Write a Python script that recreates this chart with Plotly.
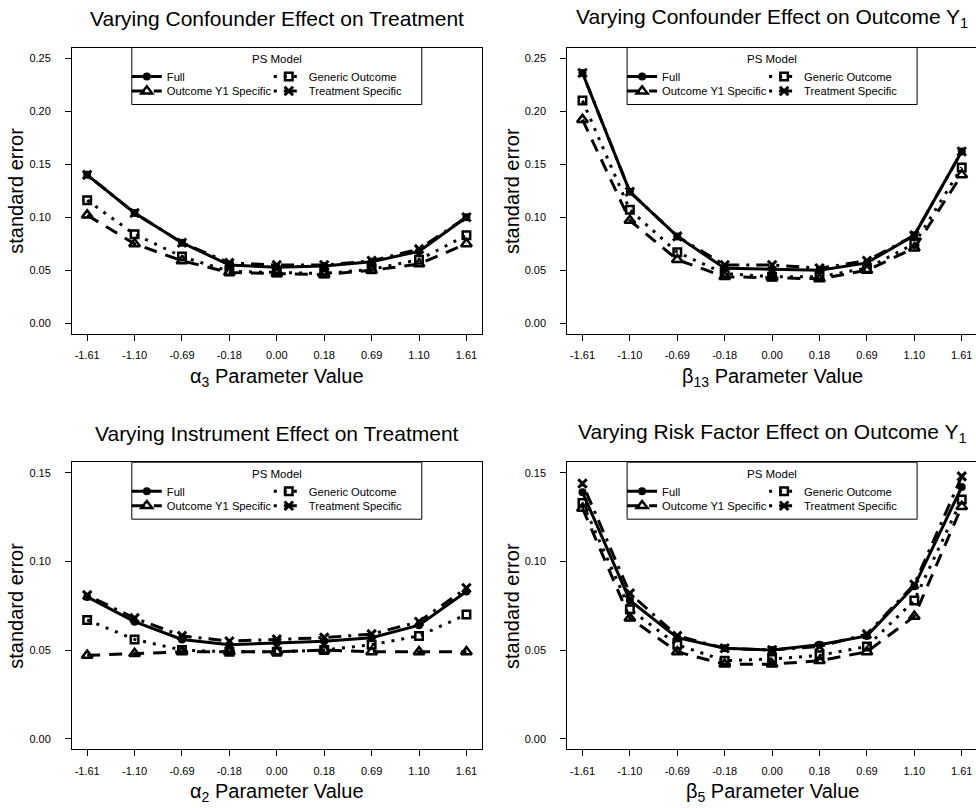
import plotly.graph_objects as go

# ---------------- data ----------------
categories = ["-1.61", "-1.10", "-0.69", "-0.18", "0.00", "0.18", "0.69", "1.10", "1.61"]
series_names = ["Full", "Generic Outcome", "Outcome Y1 Specific", "Treatment Specific"]

# Panel 1: Varying Confounder Effect on Treatment (alpha_3)
conf_trt_full = [0.140, 0.104, 0.076, 0.055, 0.053, 0.054, 0.058, 0.068, 0.100]
conf_trt_generic = [0.116, 0.084, 0.063, 0.049, 0.048, 0.047, 0.051, 0.060, 0.083]
conf_trt_y1spec = [0.102, 0.075, 0.059, 0.048, 0.047, 0.046, 0.050, 0.056, 0.075]
conf_trt_trtspec = [0.140, 0.104, 0.076, 0.057, 0.055, 0.055, 0.059, 0.070, 0.100]

# Panel 2: Varying Confounder Effect on Outcome Y1 (beta_13)
conf_y1_full = [0.236, 0.124, 0.082, 0.052, 0.051, 0.050, 0.057, 0.083, 0.162]
conf_y1_generic = [0.210, 0.107, 0.067, 0.047, 0.044, 0.044, 0.052, 0.075, 0.147]
conf_y1_y1spec = [0.192, 0.097, 0.060, 0.044, 0.043, 0.042, 0.050, 0.071, 0.140]
conf_y1_trtspec = [0.236, 0.124, 0.082, 0.055, 0.055, 0.052, 0.059, 0.083, 0.162]

# Panel 3: Varying Instrument Effect on Treatment (alpha_2)
inst_trt_full = [0.080, 0.066, 0.056, 0.053, 0.054, 0.055, 0.057, 0.064, 0.083]
inst_trt_generic = [0.067, 0.056, 0.050, 0.049, 0.049, 0.050, 0.053, 0.058, 0.070]
inst_trt_y1spec = [0.047, 0.048, 0.049, 0.049, 0.049, 0.050, 0.049, 0.049, 0.049]
inst_trt_trtspec = [0.081, 0.068, 0.058, 0.055, 0.056, 0.057, 0.059, 0.066, 0.085]

# Panel 4: Varying Risk Factor Effect on Outcome Y1 (beta_5)
risk_y1_full = [0.139, 0.078, 0.057, 0.051, 0.050, 0.053, 0.058, 0.086, 0.142]
risk_y1_generic = [0.133, 0.073, 0.053, 0.044, 0.045, 0.047, 0.052, 0.078, 0.135]
risk_y1_y1spec = [0.130, 0.068, 0.049, 0.042, 0.042, 0.044, 0.049, 0.069, 0.131]
risk_y1_trtspec = [0.144, 0.082, 0.058, 0.051, 0.050, 0.052, 0.059, 0.087, 0.148]

titles = [
    "Varying Confounder Effect on Treatment",
    "Varying Confounder Effect on Outcome Y<sub>1</sub>",
    "Varying Instrument Effect on Treatment",
    "Varying Risk Factor Effect on Outcome Y<sub>1</sub>",
]
xtitles = [
    "\u03b1<sub>3</sub> Parameter Value",
    "\u03b2<sub>13</sub> Parameter Value",
    "\u03b1<sub>2</sub> Parameter Value",
    "\u03b2<sub>5</sub> Parameter Value",
]
ytitle = "standard error"
yticks_top = [0.00, 0.05, 0.10, 0.15, 0.20, 0.25]
yticks_bottom = [0.00, 0.05, 0.10, 0.15]

panel_data = [
    [conf_trt_full, conf_trt_generic, conf_trt_y1spec, conf_trt_trtspec],
    [conf_y1_full, conf_y1_generic, conf_y1_y1spec, conf_y1_trtspec],
    [inst_trt_full, inst_trt_generic, inst_trt_y1spec, inst_trt_trtspec],
    [risk_y1_full, risk_y1_generic, risk_y1_y1spec, risk_y1_trtspec],
]

# ---------------- layout geometry (px) ----------------
W, H = 976, 808
FONT = "Liberation Sans, Arial, sans-serif"
# (left, right, top, bottom) of each plotting box in pixels
boxes = [
    (72.0, 481.6, 47.5, 334.0),
    (567.3, 976.0, 47.5, 334.0),
    (72.0, 481.6, 462.2, 749.3),
    (567.3, 976.0, 462.2, 749.3),
]
full_width = 409.6
yranges = [(-0.01, 0.26), (-0.01, 0.26), (-0.006, 0.156), (-0.006, 0.156)]
ytickss = [yticks_top, yticks_top, yticks_bottom, yticks_bottom]

styles = {
    "Full": dict(dash="solid", symbol="circle", size=8, mlw=0),
    "Generic Outcome": dict(dash="3px,7px", symbol="square-open", size=7.5, mlw=2.5),
    "Outcome Y1 Specific": dict(dash="13px,9px", symbol="triangle-up-open", size=9.5, mlw=2.5),
    "Treatment Specific": dict(dash="3px,7px,13px,7px", symbol="x-thin-open", size=8.5, mlw=3),
}
# legend column/row of each series
leg_pos = {
    "Full": (0, 0),
    "Outcome Y1 Specific": (0, 1),
    "Generic Outcome": (1, 0),
    "Treatment Specific": (1, 1),
}

def px(x):
    return x / W

def py(y):
    return 1 - y / H

fig = go.Figure()
layout = dict(
    width=W, height=H,
    margin=dict(l=0, r=0, t=0, b=0),
    paper_bgcolor="white", plot_bgcolor="white",
    font=dict(family=FONT, color="black"),
    showlegend=True,
)
annotations = []
shapes = []
legend_counter = 0

for p in range(4):
    left, right, top, bottom = boxes[p]
    ax_id = "" if p == 0 else str(p + 1)
    xa = "xaxis" + ax_id
    ya = "yaxis" + ax_id
    xref = "x" + ax_id
    yref = "y" + ax_id
    right_panel = p in (1, 3)
    xr_hi = -0.32 + 8.64 * (right - left) / full_width
    layout[xa] = dict(
        domain=[px(left), min(px(right), 1.0)],
        anchor=yref,
        type="category",
        categoryorder="array", categoryarray=categories,
        range=[-0.32, xr_hi],
        showline=True, linecolor="black", linewidth=1, mirror=True,
        ticks="outside", ticklen=6, tickwidth=1, tickcolor="black",
        tickfont=dict(size=11, family=FONT, color="black"),
        ticklabelstandoff=5,
        showgrid=False, zeroline=False, fixedrange=True,
    )
    layout[ya] = dict(
        domain=[py(bottom), py(top)],
        anchor=xref,
        range=list(yranges[p]),
        tickvals=ytickss[p], tickformat=".2f",
        showline=True, linecolor="black", linewidth=1, mirror=not right_panel,
        ticks="outside", ticklen=6, tickwidth=1, tickcolor="black",
        tickfont=dict(size=11, family=FONT, color="black"),
        ticklabelstandoff=12,
        showgrid=False, zeroline=False, fixedrange=True,
    )

    # legend frame
    cx = left + full_width / 2
    bl, br = cx - 145, cx + 145
    bt, bb = top, top + 57
    shapes.append(dict(type="rect", xref="paper", yref="paper",
                       x0=px(bl), x1=px(br), y0=py(bb), y1=py(bt),
                       line=dict(color="black", width=1), fillcolor="white", layer="below"))
    annotations.append(dict(text="PS Model", xref="paper", yref="paper",
                            x=px(cx), y=py(bt + 11.5), xanchor="center", yanchor="middle",
                            showarrow=False, font=dict(size=11.5, family=FONT)))

    # titles
    annotations.append(dict(text=titles[p], xref="paper", yref="paper",
                            x=px(cx), y=py(top - 29), xanchor="center", yanchor="middle",
                            showarrow=False, font=dict(size=21, family=FONT)))
    annotations.append(dict(text=xtitles[p], xref="paper", yref="paper",
                            x=px(cx), y=py(bottom + 43), xanchor="center", yanchor="middle",
                            showarrow=False, font=dict(size=20, family=FONT)))
    annotations.append(dict(text=ytitle, xref="paper", yref="paper",
                            x=px(left - 56), y=py((top + bottom) / 2), xanchor="center", yanchor="middle",
                            textangle=-90, showarrow=False, font=dict(size=20, family=FONT)))

    for s, name in enumerate(series_names):
        st = styles[name]
        legend_counter += 1
        lkey = "legend" if legend_counter == 1 else "legend%d" % legend_counter
        col, row = leg_pos[name]
        lx = bl - 5 if col == 0 else bl + 137
        ly = bt + 29 + 14.5 * row
        layout[lkey] = dict(
            x=px(lx), y=py(ly), xanchor="left", yanchor="middle",
            xref="paper", yref="paper",
            bgcolor="rgba(0,0,0,0)", borderwidth=0,
            font=dict(size=11.2, family=FONT, color="black"),
            itemwidth=30, orientation="v", tracegroupgap=0,
            itemclick=False, itemdoubleclick=False,
        )
        fig.add_trace(go.Scatter(
            x=categories, y=panel_data[p][s],
            mode="lines+markers", name=name,
            xaxis=xref, yaxis=yref, legend=lkey, showlegend=True,
            line=dict(color="black", width=3, dash=st["dash"]),
            marker=dict(symbol=st["symbol"], size=st["size"], color="black",
                        line=dict(color="black", width=st["mlw"])),
            hoverinfo="x+y+name",
        ))

layout["annotations"] = annotations
layout["shapes"] = shapes
fig.update_layout(**layout)
fig.write_html(
    "out.html",
    config={"displayModeBar": False},
    post_script="document.body.style.margin='0px';document.body.style.padding='0px';"
                "document.documentElement.style.overflow='hidden';",
)
